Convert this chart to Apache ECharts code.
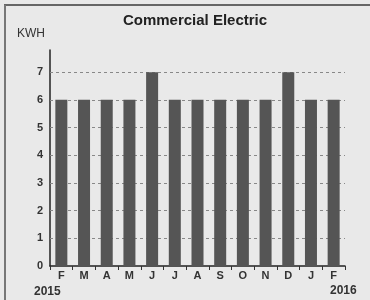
<!DOCTYPE html>
<html>
<head>
    <meta charset="utf-8">
    <title>Commercial Electric</title>
    <script src="https://cdn.jsdelivr.net/npm/echarts@6/dist/echarts.min.js"></script>
    <style>
        body { margin: 0; background: #e9e9e9; }
    </style>
</head>
<body>
    <div id="main" style="width: 370px;height:300px;"></div>
    <script type="text/javascript">
        // months Feb 2015 .. Feb 2016
        var months = ['F', 'M', 'A', 'M', 'J', 'J', 'A', 'S', 'O', 'N', 'D', 'J', 'F'];
        var kwh = [6, 6, 6, 6, 7, 6, 6, 6, 6, 6, 7, 6, 6];
        var gridTicks = [1, 2, 3, 4, 5, 6, 7];
        var startYear = '2015';
        var endYear = '2016';

        var myChart = echarts.init(document.getElementById('main'));

        var font = 'Liberation Sans, Arial, sans-serif';

        var option = {
            backgroundColor: '#e9e9e9',
            animation: false,
            title: {
                text: 'Commercial Electric',
                left: 190,
                top: 8,
                textAlign: 'center',
                textStyle: { fontFamily: font, fontSize: 15, fontWeight: 'bold', color: '#222' }
            },
            grid: { left: 50, right: 25, top: 50, bottom: 34 },
            xAxis: {
                type: 'category',
                data: months,
                axisLine: { lineStyle: { color: '#222', width: 1.5 } },
                axisTick: { show: true, length: 4, lineStyle: { color: '#333' } },
                axisLabel: { color: '#333', fontFamily: font, fontSize: 11, fontWeight: 'bold', margin: 4 }
            },
            yAxis: {
                type: 'value',
                name: 'KWH',
                nameLocation: 'end',
                nameGap: 10,
                nameTextStyle: { color: '#333', fontFamily: font, fontSize: 12, align: 'right', padding: [0, 5, 0, 0] },
                min: 0,
                max: 7.8,
                interval: 1,
                axisLine: { show: true, lineStyle: { color: '#222', width: 1.5 } },
                axisTick: { show: false },
                splitLine: { show: false },
                axisLabel: {
                    color: '#333', fontFamily: font, fontSize: 11, fontWeight: 'bold', margin: 7,
                    formatter: function (v) { return v % 1 === 0 ? String(v) : ''; }
                }
            },
            graphic: [
                { type: 'line', shape: { x1: 4, y1: 5, x2: 370, y2: 5 }, style: { stroke: '#666', lineWidth: 2 } },
                { type: 'line', shape: { x1: 5, y1: 5, x2: 5, y2: 300 }, style: { stroke: '#777', lineWidth: 2 } },
                { type: 'text', left: 34, top: 286, style: { text: startYear, fontFamily: font, fontSize: 12, fontWeight: 'bold', fill: '#333' } },
                { type: 'text', left: 330, top: 285, style: { text: endYear, fontFamily: font, fontSize: 12, fontWeight: 'bold', fill: '#333' } }
            ],
            series: [{
                name: 'KWH',
                type: 'bar',
                data: kwh,
                barWidth: 12,
                itemStyle: { color: '#555555' },
                markLine: {
                    silent: true,
                    symbol: 'none',
                    label: { show: false },
                    z: 1,
                    lineStyle: { color: '#888', type: [3, 3], width: 1 },
                    data: gridTicks.map(function (t) { return { yAxis: t }; })
                },
                z: 2
            }]
        };

        myChart.setOption(option);
    </script>
</body>
</html>
